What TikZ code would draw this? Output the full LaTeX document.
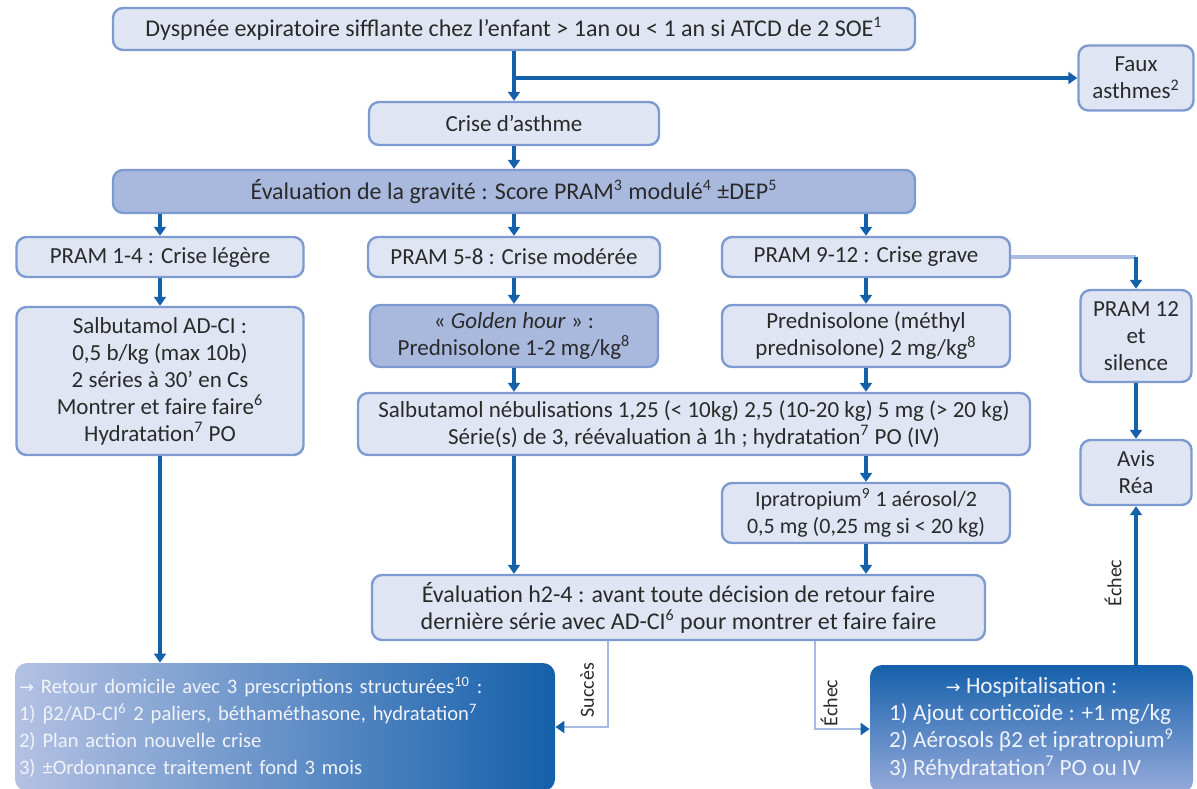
\documentclass[tikz,border=0pt]{standalone}
\usepackage{fontspec}
\setmainfont{Carlito}
\newfontfamily\symfont{DejaVu Sans}
\usetikzlibrary{arrows.meta}
\definecolor{boxfill}{HTML}{DFE5F2}
\definecolor{boxline}{HTML}{7D9BD0}
\definecolor{darkfill}{HTML}{A9B9DE}
\definecolor{conn}{HTML}{1560AB}
\definecolor{lightconn}{HTML}{A9BBE0}
\definecolor{txt}{HTML}{2A2A2A}
\definecolor{retleft}{HTML}{B4C1E3}
\definecolor{hosbottom}{HTML}{97ABDB}
\definecolor{wtxt}{HTML}{F0F3FA}
\newcommand{\arr}{{\symfont\fontsize{9}{9}\selectfont →}}
\begin{document}
\begin{tikzpicture}[x=0.5pt,y=-0.5pt,
  box/.style={draw=boxline, line width=1.2pt, fill=boxfill, rounded corners=5pt, inner sep=0pt, text=txt, align=center, font=\fontsize{11.5}{13.5}\selectfont},
  dbox/.style={box, fill=darkfill},
  bigfont/.style={font=\fontsize{12}{13.5}\selectfont},
  link/.style={draw=conn, line width=2pt, -{Triangle[width=6pt,length=4.5pt]}},
  lightlink/.style={draw=lightconn, line width=1.2pt, -{Triangle[width=6pt,length=4.5pt,color=conn]}},
  lightline/.style={draw=lightconn, line width=1.6pt},
  lab/.style={rotate=90, text=txt, font=\fontsize{10}{12}\selectfont, inner sep=1pt},
  bigbox/.style={rounded corners=6pt, inner sep=0pt, text=wtxt}
]
\clip (0,0) rectangle (1197,788);
% nodes
\node[box, bigfont, minimum width=401pt, minimum height=21pt] (top) at (514,29) {Dyspnée expiratoire sifflante chez l'enfant > 1an ou < 1 an si ATCD de 2 SOE\textsuperscript{1}};
\node[box, minimum width=57.5pt, minimum height=32.5pt] (faux) at (1136,78) {Faux\\asthmes\textsuperscript{2}};
\node[box, minimum width=145pt, minimum height=21.5pt] (crise) at (514,123.5) {Crise d'asthme};
\node[dbox, bigfont, minimum width=401pt, minimum height=21.5pt] (eval) at (514,191.5) {Évaluation de la gravité : Score PRAM\textsuperscript{3} modulé\textsuperscript{4} ±DEP\textsuperscript{5}};
\node[box, minimum width=143.5pt, minimum height=20pt] (p14) at (160,257) {PRAM 1-4 : Crise légère};
\node[box, minimum width=146pt, minimum height=20pt] (p58) at (514,257) {PRAM 5-8 : Crise modérée};
\node[box, minimum width=144pt, minimum height=20pt] (p912) at (866,257) {PRAM 9-12 : Crise grave};
\node[box, minimum width=55.5pt, minimum height=46pt] (p12) at (1136,336) {PRAM 12\\et\\silence};
\node[box, minimum width=55.5pt, minimum height=32.5pt] (rea) at (1136,472.5) {Avis\\Réa};
\node[box, minimum width=143.5pt, minimum height=74pt] (salb) at (160,381) {Salbutamol AD-CI :\\0,5 b/kg (max 10b)\\2 séries à 30' en Cs\\Montrer et faire faire\textsuperscript{6}\\Hydratation\textsuperscript{7} PO};
\node[dbox, minimum width=144pt, minimum height=31pt] (golden) at (514,336) {« \textit{Golden hour} » :\\Prednisolone 1-2 mg/kg\textsuperscript{8}};
\node[box, minimum width=144pt, minimum height=31pt] (pred) at (866,336) {Prednisolone (méthyl\\prednisolone) 2 mg/kg\textsuperscript{8}};
\node[box, minimum width=336pt, minimum height=31pt] (nebul) at (694,424) {Salbutamol nébulisations 1,25 (< 10kg) 2,5 (10-20 kg) 5 mg (> 20 kg)\\Série(s) de 3, réévaluation à 1h ; hydratation\textsuperscript{7} PO (IV)};
\node[box, font=\fontsize{11}{13.5}\selectfont, minimum width=144pt, minimum height=30pt] (ipra) at (866,513) {Ipratropium\textsuperscript{9} 1 aérosol/2\\0,5 mg (0,25 mg si < 20 kg)};
\node[box, bigfont, minimum width=306.5pt, minimum height=32.5pt] (evalh) at (678.5,607.5) {Évaluation h2-4 : avant toute décision de retour faire\\dernière série avec AD-CI\textsuperscript{6} pour montrer et faire faire};
\node[bigbox, font=\fontsize{10.3}{13.5}\selectfont, left color=retleft, right color=conn, text width=266pt, inner xsep=2pt, minimum height=64pt, align=left] (retour) at (285,727) {\arr{} Retour domicile avec 3 prescriptions structurées\textsuperscript{10} :\\1) β2/AD-CI\textsuperscript{6} 2 paliers, béthaméthasone, hydratation\textsuperscript{7}\\2) Plan action nouvelle crise\\3) ±Ordonnance traitement fond 3 mois};
\node[bigbox, font=\fontsize{11.6}{13.5}\selectfont, top color=conn, bottom color=hosbottom, minimum width=161.5pt, minimum height=64pt] (hosp) at (1031.5,729) {\begin{tabular}{@{}l@{}}\multicolumn{1}{@{}c@{}}{\arr{} Hospitalisation :}\\1) Ajout corticoïde : +1 mg/kg\\2) Aérosols β2 et ipratropium\textsuperscript{9}\\3) Réhydratation\textsuperscript{7} PO ou IV\end{tabular}};
% connectors
\coordinate (br) at (514,78);
\draw[link] (top) -- (crise);
\draw[link] (br) -- (faux.west);
\draw[link] (crise) -- (eval);
\draw[link] (eval.south -| p14) -- (p14.north);
\draw[link] (eval) -- (p58);
\draw[link] (eval.south -| p912) -- (p912.north);
\draw[lightline] (p912.east) -- (p912.east -| p12);
\draw[link] (p912.east -| p12) -- (p12.north);
\draw[link] (p12) -- (rea);
\draw[link] (hosp.north -| rea) -- (rea.south);
\draw[link] (p14) -- (salb);
\draw[link] (salb.south) -- (salb.south |- retour.north);
\draw[link] (p58) -- (golden);
\draw[link] (p912) -- (pred);
\draw[link] (golden.south) -- (golden.south |- nebul.north);
\draw[link] (pred.south) -- (pred.south |- nebul.north);
\draw[link] (nebul.south -| pred) -- (ipra.north);
\draw[link] (nebul.south -| golden) -- (evalh.north -| golden);
\draw[link] (ipra) -- (evalh.north -| ipra);
\coordinate (sx) at (608,0);
\coordinate (ex) at (815,0);
\draw[lightlink] (evalh.south -| sx) |- (retour.east);
\draw[lightlink] (evalh.south -| ex) |- (hosp.west);
% labels
\node[lab] (succes) at (587,690) {Succès};
\node[lab] (echec1) at (829,703) {Échec};
\node[lab] (echec2) at (1113,583) {Échec};
\end{tikzpicture}
\end{document}
